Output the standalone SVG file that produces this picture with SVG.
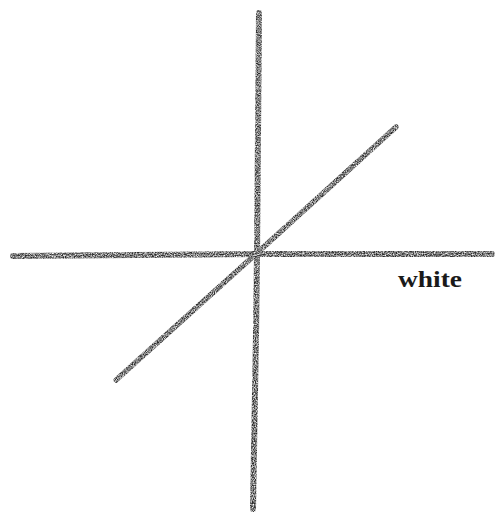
<svg xmlns="http://www.w3.org/2000/svg" width="497" height="517" viewBox="0 0 497 517">
  <defs>
    <filter id="chalk" x="-5%" y="-5%" width="110%" height="110%">
      <feTurbulence type="fractalNoise" baseFrequency="0.9" numOctaves="2" seed="3" result="noise"/>
      <feColorMatrix in="noise" type="matrix" values="0 0 0 0 0  0 0 0 0 0  0 0 0 0 0  0 0 0 -1.8 1.5" result="mask"/>
      <feComposite in="SourceGraphic" in2="mask" operator="in" result="grain"/>
      <feGaussianBlur in="grain" stdDeviation="0.6"/>
    </filter>
  </defs>
  <style>
    .stroke { fill: none; stroke: #2a2a2a; stroke-linecap: round; }
    .label { font-family: "Liberation Serif", "DejaVu Serif", serif; font-size: 24px; font-weight: bold; fill: #1a1a1a; }
  </style>
  <rect width="497" height="517" fill="#ffffff"/>
  <g id="connectors" filter="url(#chalk)">
    <path id="axis-vertical" class="stroke" stroke-width="6" d="M259,13 C258,120 258,200 257,254 C256,340 255,430 253,509"/>
    <path id="axis-horizontal" class="stroke" stroke-width="6" d="M13,256 C100,255 180,254 257,254 C340,254 420,254 492,254"/>
    <path id="axis-diagonal" class="stroke" stroke-width="5.5" d="M116,380 L257,253 L396,127"/>
  </g>
  <g id="label-white">
    <text class="label" x="398" y="287" textLength="64" lengthAdjust="spacingAndGlyphs">white</text>
  </g>
</svg>
